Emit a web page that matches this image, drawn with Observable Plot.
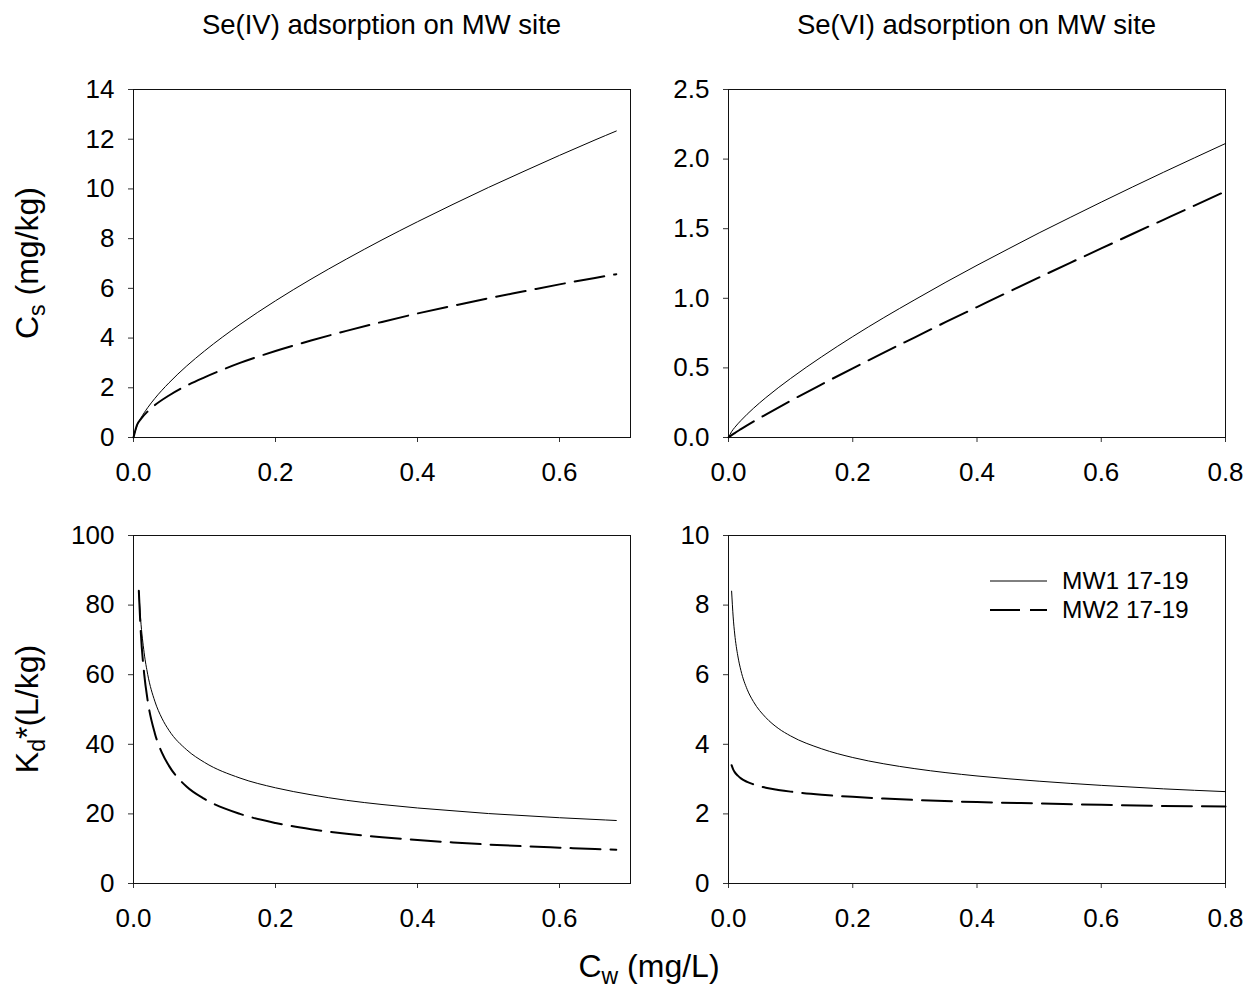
<!DOCTYPE html>
<html>
<head>
<meta charset="utf-8">
<script src="https://cdn.jsdelivr.net/npm/d3@7"></script>
<script src="https://cdn.jsdelivr.net/npm/@observablehq/plot@0.6"></script>
<style>
  html, body { margin: 0; padding: 0; background: white; }
  #wrap { position: relative; width: 1249px; height: 993px; font-family: "Liberation Sans", Arial, sans-serif; overflow: hidden; }
  #wrap svg.plotpanel { position: absolute; }
  #overlay { position: absolute; left: 0; top: 0; pointer-events: none; }
</style>
</head>
<body>
<div id="wrap"></div>
<script>
// ---------- Data ----------
const seriesNames = ["MW1 17-19", "MW2 17-19"];
const panelTitles = ["Se(IV) adsorption on MW site", "Se(VI) adsorption on MW site"];

// Se(IV): Cs vs Cw
const seIV_cs_x   = [0, 0.005, 0.01, 0.02, 0.03, 0.05, 0.075, 0.1, 0.15, 0.2, 0.25, 0.3, 0.35, 0.4, 0.45, 0.5, 0.55, 0.6, 0.65, 0.68];
const seIV_cs_MW1 = [0, 0.48, 0.76, 1.20, 1.57, 2.20, 2.88, 3.48, 4.55, 5.50, 6.37, 7.18, 7.95, 8.68, 9.38, 10.06, 10.71, 11.35, 11.97, 12.33];
const seIV_cs_MW2 = [0, 0.51, 0.73, 1.05, 1.30, 1.69, 2.09, 2.42, 3.00, 3.48, 3.90, 4.29, 4.65, 4.99, 5.30, 5.60, 5.88, 6.16, 6.42, 6.57];

// Se(IV): Kd* vs Cw
const seIV_kd_x   = [0.0075, 0.01, 0.015, 0.02, 0.03, 0.04, 0.05, 0.075, 0.1, 0.15, 0.2, 0.25, 0.3, 0.35, 0.4, 0.45, 0.5, 0.55, 0.6, 0.65, 0.68];
const seIV_kd_MW1 = [83.9, 76.1, 66.3, 60.1, 52.4, 47.5, 44.0, 38.4, 34.8, 30.3, 27.5, 25.5, 23.9, 22.7, 21.7, 20.9, 20.1, 19.5, 18.9, 18.4, 18.1];
const seIV_kd_MW2 = [84.1, 73.2, 60.3, 52.5, 43.2, 37.6, 33.8, 27.8, 24.3, 20.0, 17.4, 15.6, 14.3, 13.3, 12.5, 11.8, 11.2, 10.7, 10.3, 9.9, 9.7];

// Se(VI): Cs vs Cw
const seVI_cs_x   = [0, 0.005, 0.01, 0.02, 0.04, 0.06, 0.1, 0.15, 0.2, 0.25, 0.3, 0.35, 0.4, 0.45, 0.5, 0.55, 0.6, 0.65, 0.7, 0.75, 0.8];
const seVI_cs_MW1 = [0, 0.042, 0.072, 0.122, 0.209, 0.286, 0.424, 0.580, 0.725, 0.861, 0.990, 1.116, 1.237, 1.354, 1.470, 1.581, 1.691, 1.799, 1.905, 2.009, 2.112];
const seVI_cs_MW2 = [0, 0.017, 0.032, 0.060, 0.114, 0.165, 0.264, 0.382, 0.497, 0.610, 0.720, 0.830, 0.937, 1.044, 1.150, 1.255, 1.358, 1.462, 1.564, 1.666, 1.768];

// Se(VI): Kd* vs Cw
const seVI_kd_x   = [0.005, 0.0075, 0.01, 0.015, 0.02, 0.03, 0.04, 0.06, 0.08, 0.1, 0.15, 0.2, 0.25, 0.3, 0.4, 0.5, 0.6, 0.7, 0.8];
const seVI_kd_MW1 = [8.40, 7.66, 7.17, 6.54, 6.12, 5.58, 5.23, 4.77, 4.46, 4.24, 3.87, 3.62, 3.44, 3.30, 3.09, 2.94, 2.82, 2.72, 2.64];
const seVI_kd_MW2 = [3.40, 3.28, 3.20, 3.10, 3.02, 2.92, 2.85, 2.75, 2.69, 2.64, 2.55, 2.49, 2.44, 2.40, 2.34, 2.30, 2.26, 2.23, 2.21];

// Axis ticks
const xTicksIV = [0, 0.2, 0.4, 0.6];
const xTicksVI = [0, 0.2, 0.4, 0.6, 0.8];
const yTicksCsIV = [0, 2, 4, 6, 8, 10, 12, 14];
const yTicksCsVI = [0, 0.5, 1.0, 1.5, 2.0, 2.5];
const yTicksKdIV = [0, 20, 40, 60, 80, 100];
const yTicksKdVI = [0, 2, 4, 6, 8, 10];

// ---------- Layout ----------
const FONT = "'Liberation Sans', Arial, sans-serif";
const ML = 90, MR = 15, MT = 15, MB = 50;
const FW = 497, FH = 348;

const toRows = (xs, ys) => xs.map((x, i) => ({x, y: ys[i]}));

const wrap = document.getElementById("wrap");

function panel({left, top, xDomain, xTicks, yDomain, yTicks, yFormat, mw1, mw2}) {
  const svg = Plot.plot({
    width: ML + FW + MR,
    height: MT + FH + MB,
    marginLeft: ML, marginRight: MR, marginTop: MT, marginBottom: MB,
    style: {background: "transparent", fontFamily: FONT, fontSize: "26px", color: "black", overflow: "visible"},
    x: {domain: xDomain},
    y: {domain: yDomain},
    marks: [
      Plot.axisX({ticks: xTicks, tickFormat: d3.format(".1f"), tickSize: 5, tickPadding: 20, label: null, fontSize: 26, stroke: "#333"}),
      Plot.axisY({ticks: yTicks, tickFormat: yFormat, tickSize: 5, tickPadding: 14, label: null, fontSize: 26, stroke: "#333"}),
      Plot.frame({stroke: "#111", strokeWidth: 1}),
      Plot.line(mw1, {x: "x", y: "y", curve: "monotone-x", stroke: "black", strokeWidth: 1}),
      Plot.line(mw2, {x: "x", y: "y", curve: "monotone-x", stroke: "black", strokeWidth: 2, strokeDasharray: "30,10"})
    ]
  });
  svg.classList.add("plotpanel");
  svg.style.left = (left - ML) + "px";
  svg.style.top = (top - MT) + "px";
  wrap.appendChild(svg);
}

const LEFT1 = 133, LEFT2 = 728, TOP1 = 89, TOP2 = 535;

panel({left: LEFT1, top: TOP1, xDomain: [0, 0.7], xTicks: xTicksIV, yDomain: [0, 14], yTicks: yTicksCsIV, yFormat: d3.format("d"),
  mw1: toRows(seIV_cs_x, seIV_cs_MW1), mw2: toRows(seIV_cs_x, seIV_cs_MW2)});
panel({left: LEFT2, top: TOP1, xDomain: [0, 0.8], xTicks: xTicksVI, yDomain: [0, 2.5], yTicks: yTicksCsVI, yFormat: d3.format(".1f"),
  mw1: toRows(seVI_cs_x, seVI_cs_MW1), mw2: toRows(seVI_cs_x, seVI_cs_MW2)});
panel({left: LEFT1, top: TOP2, xDomain: [0, 0.7], xTicks: xTicksIV, yDomain: [0, 100], yTicks: yTicksKdIV, yFormat: d3.format("d"),
  mw1: toRows(seIV_kd_x, seIV_kd_MW1), mw2: toRows(seIV_kd_x, seIV_kd_MW2)});
panel({left: LEFT2, top: TOP2, xDomain: [0, 0.8], xTicks: xTicksVI, yDomain: [0, 10], yTicks: yTicksKdVI, yFormat: d3.format("d"),
  mw1: toRows(seVI_kd_x, seVI_kd_MW1), mw2: toRows(seVI_kd_x, seVI_kd_MW2)});

// ---------- Titles, axis labels, legend ----------
const ns = "http://www.w3.org/2000/svg";
const ov = document.createElementNS(ns, "svg");
ov.setAttribute("id", "overlay");
ov.setAttribute("width", 1249);
ov.setAttribute("height", 993);
ov.setAttribute("font-family", FONT);
wrap.appendChild(ov);

const SUB_SHIFT = 7; // px the subscript sits below the baseline
function txt(attrs, parts) {
  const t = document.createElementNS(ns, "text");
  for (const k in attrs) t.setAttribute(k, attrs[k]);
  let shifted = false;
  for (const p of parts) {
    const s = document.createElementNS(ns, "tspan");
    s.textContent = p.text;
    if (p.sub) { s.setAttribute("dy", SUB_SHIFT); s.setAttribute("font-size", "72%"); shifted = true; }
    else if (shifted) { s.setAttribute("dy", -SUB_SHIFT); shifted = false; }
    t.appendChild(s);
  }
  ov.appendChild(t);
  return t;
}

const cx1 = LEFT1 + FW / 2, cx2 = LEFT2 + FW / 2;
txt({x: cx1, y: 34, "text-anchor": "middle", "font-size": 27.5, fill: "black"}, [{text: panelTitles[0]}]);
txt({x: cx2, y: 34, "text-anchor": "middle", "font-size": 27.5, fill: "black"}, [{text: panelTitles[1]}]);

txt({transform: `translate(38,${TOP1 + FH / 2}) rotate(-90)`, "text-anchor": "middle", "font-size": 32, fill: "black"},
  [{text: "C"}, {text: "s", sub: true}, {text: " (mg/kg)"}]);
txt({transform: `translate(38,${TOP2 + FH / 2}) rotate(-90)`, "text-anchor": "middle", "font-size": 32, fill: "black"},
  [{text: "K"}, {text: "d", sub: true}, {text: "*(L/kg)"}]);
txt({x: 649, y: 977, "text-anchor": "middle", "font-size": 32, fill: "black"},
  [{text: "C"}, {text: "w", sub: true}, {text: " (mg/L)"}]);

// legend
const legendRows = [{name: seriesNames[0], y: 581, w: 1, dash: null}, {name: seriesNames[1], y: 610, w: 2, dash: "30,10"}];
for (const r of legendRows) {
  const l = document.createElementNS(ns, "line");
  l.setAttribute("x1", 990); l.setAttribute("x2", 1047);
  l.setAttribute("y1", r.y); l.setAttribute("y2", r.y);
  l.setAttribute("stroke", "black"); l.setAttribute("stroke-width", r.w);
  if (r.dash) l.setAttribute("stroke-dasharray", r.dash);
  ov.appendChild(l);
  txt({x: 1062, y: r.y + 8, "font-size": 24.5, fill: "black"}, [{text: r.name}]);
}
</script>
</body>
</html>
